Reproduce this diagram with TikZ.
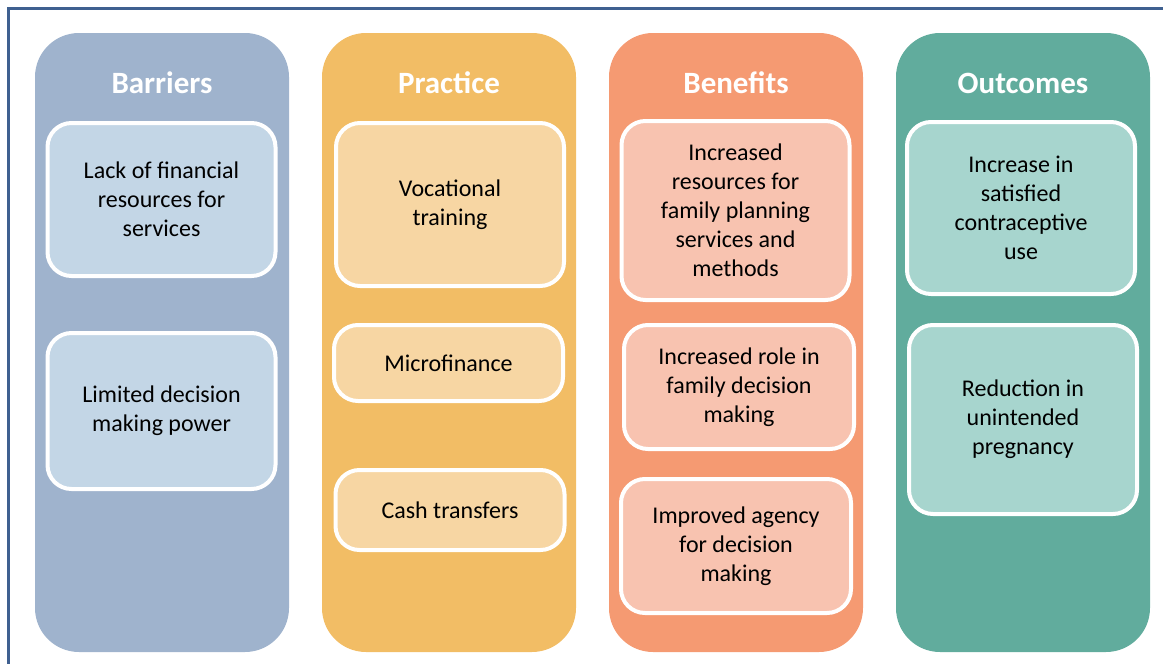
\documentclass[tikz,border=0pt]{standalone}
\usepackage{fontspec}
\setmainfont{Carlito}
\usepackage{xcolor}
\usepackage{tikz}
\definecolor{framecol}{HTML}{3F6090}
\definecolor{barcol}{HTML}{9FB3CD}
\definecolor{barin}{HTML}{C3D6E6}
\definecolor{pracol}{HTML}{F2BD65}
\definecolor{prain}{HTML}{F7D6A3}
\definecolor{bencol}{HTML}{F59A72}
\definecolor{benin}{HTML}{F8C3B0}
\definecolor{outcol}{HTML}{61AC9D}
\definecolor{outin}{HTML}{A7D5CE}
\tikzset{
  column/.style={rounded corners=44pt,minimum width=254pt,minimum height=619pt,inner sep=0pt},
  coltitle/.style={text=white,font=\fontsize{31}{37}\selectfont\bfseries},
  inbox/.style={draw=white,line width=4pt,rounded corners=24pt,align=center,
    minimum width=228pt,inner sep=0pt,font=\fontsize{24}{29}\selectfont},
}

\begin{document}
\begin{tikzpicture}[x=1pt,y=-1pt]
      \useasboundingbox (0,0) rectangle (1163,664);
      \draw[framecol,line width=3pt] (8,664) -- (8,8) -- (1163,8);
      % columns
      \node[column,fill=barcol] (bar) at (162,342.5) {};
      \node[column,fill=pracol] (pra) at (449,342.5) {};
      \node[column,fill=bencol] (ben) at (736,342.5) {};
      \node[column,fill=outcol] (out) at (1023,342.5) {};
      \node[coltitle] (barT) at (162,83) {Barriers};
      \node[coltitle] (praT) at (449,83) {Practice};
      \node[coltitle] (benT) at (736,83) {Benefits};
      \node[coltitle] (outT) at (1023,83) {Outcomes};
      % barriers
      \node[inbox,fill=barin,minimum height=153pt] (bar1) at (161.5,199.5) {Lack of financial\\resources for\\services};
      \node[inbox,fill=barin,minimum height=156pt] (bar2) at (161.5,411) {Limited decision\\making power};
      % practice
      \node[inbox,fill=prain,minimum height=163pt] (pra1) at (450,204.5) {Vocational\\training};
      \node[inbox,fill=prain,minimum height=76pt,minimum width=229pt] (pra2) at (448.5,363) {Microfinance};
      \node[inbox,fill=prain,minimum height=80pt,minimum width=229pt] (pra3) at (450,510) {Cash transfers};
      % benefits
      \node[inbox,fill=benin,minimum height=179pt] (ben1) at (735.5,210.5) {Increased\\resources for\\family planning\\services and\\methods};
      \node[inbox,fill=benin,minimum height=124pt,minimum width=230pt] (ben2) at (739,387) {Increased role in\\family decision\\making};
      \node[inbox,fill=benin,minimum height=134pt,minimum width=230pt] (ben3) at (736,546) {Improved agency\\for decision\\making};
      % outcomes
      \node[inbox,fill=outin,minimum height=172pt] (out1) at (1021,208) {Increase in\\satisfied\\contraceptive\\use};
      \node[inbox,fill=outin,minimum height=189pt] (out2) at (1023,419.5) {Reduction in\\unintended\\pregnancy};
\end{tikzpicture}
\end{document}
